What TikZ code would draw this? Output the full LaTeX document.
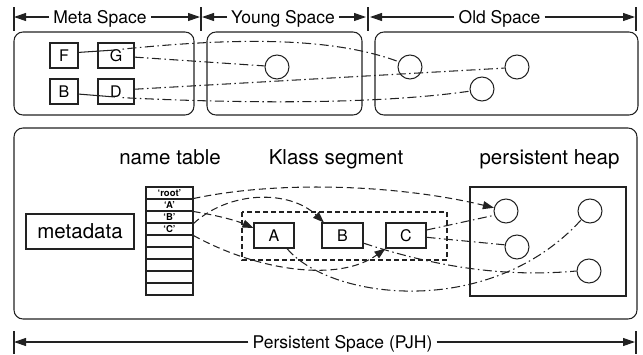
\documentclass[tikz,border=0pt]{standalone}
\usepackage{fontspec}
\setmainfont{TeX Gyre Heros}
\usetikzlibrary{arrows.meta,calc}
\definecolor{lc}{HTML}{222222}
\begin{document}
\begin{tikzpicture}[x=1pt,y=-1pt,
  obj/.style={draw=lc, line width=1.05pt, inner sep=0pt, font=\fontsize{16}{16}\selectfont},
  spacebox/.style={draw=lc, line width=1.05pt, rounded corners=9pt},
  circ/.style={circle, draw=lc, line width=1.05pt, minimum size=24pt, inner sep=0pt},
  ddl/.style={draw=lc, line width=1.05pt, dash pattern=on 9pt off 3.5pt on 1.5pt off 3.5pt},
  dsh/.style={draw=lc, line width=1.05pt, dash pattern=on 7pt off 4pt, -{Triangle[length=11pt,width=8pt]}},
  solidln/.style={draw=lc, line width=1.05pt},
  dimlab/.style={font=\fontsize{17.5}{17.5}\selectfont, inner sep=4pt, text height=12.5pt, text depth=0pt},
  dim/.style={draw=lc, line width=1.05pt, -{Triangle[length=12pt,width=8pt]}},
  tick/.style={draw=lc, line width=1.05pt},
  seclab/.style={font=\fontsize{20.5}{20.5}\selectfont, anchor=base, inner sep=0pt},
  trow/.style={draw=lc, line width=1.05pt, minimum width=47pt, minimum height=12pt, inner sep=0pt, font=\bfseries\fontsize{9.5}{9.5}\selectfont},
  kseg/.style={draw=lc, line width=1.05pt, dash pattern=on 5pt off 3pt}
]
\useasboundingbox (0,0) rectangle (643,354);

% ---------- top dimension line ----------
\draw[tick] (14,7) -- (14,31);
\draw[tick] (201,7) -- (201,31);
\draw[tick] (368,7) -- (368,31);
\draw[tick] (636,7) -- (636,31);
\coordinate (m0) at (14,17);
\coordinate (m1) at (200,17);
\coordinate (y0) at (202,17);
\coordinate (y1) at (366,17);
\coordinate (o0) at (370,17);
\coordinate (o1) at (635,17);
\node[dimlab] (lmeta) at (100,17) {Meta Space};
\node[dimlab] (lyoung) at (283,17) {Young Space};
\node[dimlab] (lold) at (499.5,17) {Old Space};
\draw[dim] (lmeta.west) -- (m0);
\draw[dim] (lmeta.east) -- (m1);
\draw[dim] (lyoung.west) -- (y0);
\draw[dim] (lyoung.east) -- (y1);
\draw[dim] (lold.west) -- (o0);
\draw[dim] (lold.east) -- (o1);

% ---------- top spaces ----------
\draw[spacebox] (14,32) rectangle (194,115);
\draw[spacebox] (207,32) rectangle (362,115);
\draw[spacebox] (375,32) rectangle (638,115);

\node[obj, minimum width=28pt, minimum height=25pt] (F) at (64,55.5) {F};
\node[obj, minimum width=36pt, minimum height=25pt] (G) at (116,55.5) {G};
\node[obj, minimum width=28pt, minimum height=25pt] (Bm) at (64,91.5) {B};
\node[obj, minimum width=36pt, minimum height=25pt] (D) at (116,91.5) {D};

\node[circ] (yc) at (277,67) {};
\node[circ] (c1) at (410,67) {};
\node[circ] (c2) at (517,67) {};
\node[circ] (c3) at (482,89) {};

\coordinate (gin) at (115,50);
\coordinate (gout) at (119,49.5);
\coordinate (din) at (115,97);
\coordinate (dout) at (119,97.5);

\draw[solidln] (F.12) -- (gin);
\draw[ddl, dash phase=9pt] (gout) .. controls (230,38) and (330,36) .. (c1.155);
\draw[ddl] (G.-5) -- (yc.175);
\draw[ddl] (D.7) -- (c2.185);
\draw[solidln] (Bm.-10) -- (din);
\draw[ddl, dash phase=9pt] (dout) .. controls (250,104) and (380,104) .. (c3.190);

% ---------- persistent space ----------
\draw[spacebox] (14,128) rectangle (637,319);

\node[seclab] (lname) at (170,164) {name table};
\node[seclab] (lklass) at (336,164) {Klass segment};
\node[seclab] (lheap) at (549.5,164) {persistent heap};

\node[obj, minimum width=108pt, minimum height=35pt, font=\fontsize{20.5}{20.5}\selectfont] (meta) at (80,231.5) {metadata};

\node[trow] (r1) at (169.5,193) {‘root’};
\node[trow] (r2) at (169.5,205) {‘A’};
\node[trow] (r3) at (169.5,217) {‘B’};
\node[trow] (r4) at (169.5,229) {‘C’};
\node[trow] (r5) at (169.5,241) {};
\node[trow] (r6) at (169.5,253) {};
\node[trow] (r7) at (169.5,265) {};
\node[trow] (r8) at (169.5,277) {};
\node[trow] (r9) at (169.5,289) {};

\draw[kseg] (242,212) rectangle (447,260);
\node[obj, minimum width=40pt, minimum height=25pt] (A) at (274,235.5) {A};
\node[obj, minimum width=41pt, minimum height=25pt] (B) at (342.5,235.5) {B};
\node[obj, minimum width=40pt, minimum height=25pt] (C) at (406,235.5) {C};

\draw[solidln] (470,187) rectangle (626,296);
\node[circ] (h1) at (506,211) {};
\node[circ] (h2) at (590,211) {};
\node[circ] (h3) at (517,247) {};
\node[circ] (h4) at (589,271) {};

\draw[dsh] ([yshift=1pt]r1.south east) .. controls (280,180) and (400,185) .. (h1.165);
\draw[dsh] (r2.south east) .. controls (215,215) and (235,220) .. (A.160);
\draw[dsh] (r3.south east) .. controls (230,190) and (290,190) .. (B.145);
\draw[dsh] (r4.south east) .. controls (260,272) and (340,282) .. (C.south west);

\draw[ddl] (A.-45) .. controls (330,300) and (490,320) .. (h2.225);
\draw[ddl] (B.-20) .. controls (430,265) and (500,278) .. (h4.west);
\draw[ddl] (C.15) -- (h1.200);
\draw[ddl] (C.-5) -- (h3.170);

% ---------- bottom dimension line ----------
\draw[tick] (14,331) -- (14,354);
\draw[tick] (636,331) -- (636,354);
\coordinate (p0) at (14,342);
\coordinate (p1) at (635,342);
\node[dimlab] (lpjh) at (342.5,342) {Persistent Space (PJH)};
\draw[dim] (lpjh.west) -- (p0);
\draw[dim] (lpjh.east) -- (p1);
\end{tikzpicture}
\end{document}
